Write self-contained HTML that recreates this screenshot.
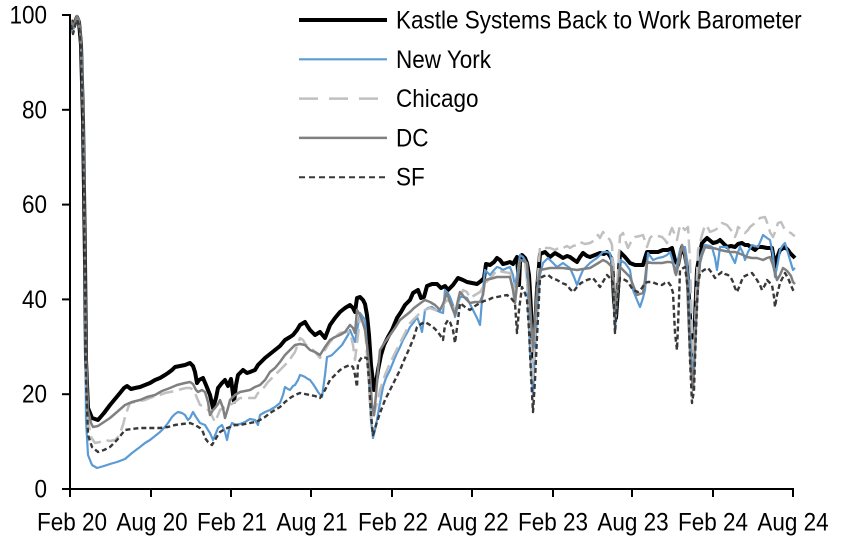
<!DOCTYPE html>
<html><head><meta charset="utf-8"><style>
html,body{margin:0;padding:0;background:#fff;}
svg{display:block;}
text{font-family:"Liberation Sans",Arial,sans-serif;font-size:25px;fill:#000;}
</style></head><body>
<svg width="852" height="543" viewBox="0 0 852 543" xmlns="http://www.w3.org/2000/svg">
<g fill="none" stroke-linejoin="round">
<!-- Kastle -->
<polyline stroke="#000" stroke-width="4" points="71,20 73,28 75,22 77,17 79,22 81,45 83,120 85,260 86,360 88,408 92,418 98,420 104,413 110,405 115,399 120,393 124,388 127,386 131,389 135,388 140,387 145,385 150,383 155,380 160,378 165,375 168,373 172,370 175,367 180,366 185,365 190,363 193,366 195,372 197,383 199,380 203,378 206,385 210,395 213,408 216,398 218,388 222,383 225,380 228,386 231,379 234,402 236,385 238,375 243,370 247,373 250,372 255,370 258,365 265,358 270,354 275,350 280,346 285,340 290,337 293,335 297,330 300,325 305,322 308,327 310,330 315,335 320,332 325,338 330,325 335,318 340,312 345,308 350,305 353,308 355,312 357,298 360,297 363,300 365,304 367,315 369,335 371,365 374,390 376,383 378,370 381,355 384,345 388,337 392,330 397,318 401,312 405,305 410,300 413,293 418,290 421,298 424,297 427,286 432,284 437,284 441,288 445,286 448,290 453,285 458,278 463,280 467,282 472,283 477,284 481,281 484,278 486,264 490,265 494,262 497,258 500,260 503,264 507,263 510,262 513,264 517,257 519,285 520,262 522,255 525,258 527,263 529,275 531,310 533,360 535,330 537,290 540,254 545,252 550,257 555,253 560,256 563,258 567,256 570,257 574,260 577,262 580,257 583,253 587,256 590,257 595,255 600,253 604,254 607,252 610,256 612,260 614,300 616,318 618,290 620,252 625,257 630,263 635,265 640,265 643,265 645,258 647,252 653,252 658,252 663,250 668,250 672,248 675,260 678,265 680,255 682,247 685,255 687,267 689,300 691,335 693,355 695,320 697,270 700,252 702,243 707,238 713,243 717,242 720,240 724,244 727,247 731,246 735,247 738,244 742,243 745,245 748,245 752,248 755,250 758,247 762,247 767,248 772,248 774,260 775,270 777,258 780,250 785,247 788,250 790,253 793,256 795,258"/>
<!-- New York -->
<polyline stroke="#5b9bd5" stroke-width="2.2" points="71,22 72,32 74,26 76,20 78,19 80,28 82,60 84,150 85,300 86,420 88,455 92,465 97,468 104,466 110,464 117,462 125,459 132,453 140,447 145,443 150,440 155,436 160,432 164,428 168,423 172,417 175,414 178,412 182,413 185,415 188,420 190,418 193,412 196,417 200,423 205,425 208,430 210,433 213,440 216,433 218,428 222,425 225,432 227,440 229,430 232,423 236,425 240,424 245,422 250,419 255,420 258,425 260,415 265,412 270,410 275,407 280,403 283,395 285,387 288,389 290,390 293,386 295,385 298,380 300,375 303,376 305,377 308,379 310,380 313,384 315,387 318,392 322,397 325,375 327,357 330,356 332,355 335,352 337,350 340,347 342,345 345,340 348,335 350,330 353,337 355,342 358,325 360,313 363,317 365,320 367,345 369,380 371,420 373,438 375,430 377,420 380,403 383,387 386,378 390,370 394,360 397,353 400,347 403,340 407,333 410,327 414,322 417,317 420,325 422,332 424,318 425,310 428,308 432,307 436,310 440,312 443,313 445,290 448,293 450,297 453,305 455,317 458,305 460,297 463,297 467,298 470,304 473,310 477,318 480,325 482,300 485,270 488,273 490,275 494,270 497,267 500,268 503,270 507,268 510,267 513,275 515,287 517,275 520,255 523,257 526,262 528,300 530,350 533,395 535,350 538,300 540,275 543,263 548,258 552,262 557,267 560,265 563,263 567,266 570,268 574,277 577,285 580,277 583,270 587,266 590,263 594,260 597,258 600,255 603,252 607,252 610,253 612,265 614,300 615,330 617,300 620,260 625,263 630,270 633,290 637,300 640,307 643,298 645,290 648,253 653,260 658,258 663,257 667,255 670,252 673,262 675,273 678,260 680,250 685,247 687,260 689,300 691,350 693,380 695,340 697,290 700,258 703,250 705,245 710,246 712,247 715,258 717,270 719,255 720,247 724,247 727,247 731,255 735,263 737,255 740,247 743,253 745,260 748,252 752,245 755,246 758,247 761,240 763,235 767,238 770,240 773,255 775,277 778,262 780,250 783,245 785,243 788,253 790,260 793,270 795,268"/>
<!-- Chicago -->
<polyline stroke="#c0c0c0" stroke-width="2.5" stroke-dasharray="14,6" points="71,22 73,30 75,24 77,18 79,22 81,45 83,120 85,260 86,360 88,420 91,437 95,443 100,442 105,440 110,441 115,440 118,437 120,433 123,425 125,417 128,408 130,403 135,402 140,401 145,400 150,398 155,396 160,395 165,393 170,392 175,391 178,390 182,389 186,388 190,388 194,390 197,398 200,405 203,406 206,408 210,412 213,418 215,422 218,415 220,410 225,407 230,405 235,402 240,398 245,398 250,398 255,398 258,393 262,390 268,382 275,375 282,368 288,362 295,352 300,338 303,340 306,345 310,347 315,352 320,358 325,350 330,342 335,337 340,333 345,332 350,332 353,345 355,360 358,335 360,317 363,322 365,327 368,370 370,405 372,423 375,410 378,400 380,390 385,375 390,363 395,353 400,343 405,333 410,323 415,318 420,313 425,310 430,308 435,310 440,312 443,305 447,300 450,302 455,310 460,300 463,290 467,292 470,298 475,295 480,292 483,287 488,280 493,275 497,270 503,272 510,273 513,280 515,300 517,285 520,260 525,262 528,290 531,340 533,380 535,340 537,290 540,247 545,248 550,248 555,250 560,247 563,248 567,246 570,248 573,246 577,245 580,242 585,244 590,243 595,240 598,235 600,238 603,232 607,237 610,240 612,245 614,290 615,320 617,290 620,236 623,233 625,240 628,248 632,240 635,237 640,236 643,235 647,247 650,238 653,235 658,236 662,237 665,240 667,243 670,233 672,228 675,235 677,240 680,225 683,228 685,230 688,227 690,260 692,330 694,360 696,300 698,250 702,235 705,225 708,228 710,232 715,230 718,228 722,223 727,225 731,230 735,237 737,232 738,227 742,230 745,233 748,230 750,227 755,223 758,220 760,218 765,217 768,225 770,232 773,237 775,232 778,223 781,222 784,228 788,232 791,233 793,235 795,236"/>
<!-- DC -->
<polyline stroke="#808080" stroke-width="2.5" points="71,20 73,28 75,21 77,16 79,20 81,40 83,110 85,250 86,350 88,410 91,423 93,427 98,426 104,422 110,418 117,412 125,405 132,402 140,400 147,397 155,395 162,391 170,388 177,385 185,383 190,382 193,384 196,390 198,392 202,390 205,392 208,402 210,415 213,410 215,408 218,404 220,400 223,408 225,418 228,408 230,400 235,395 240,392 245,391 250,390 255,387 260,385 265,380 270,372 275,368 280,362 285,355 290,350 295,345 300,344 305,345 310,350 315,352 320,355 325,347 330,340 335,337 340,335 345,332 350,325 353,328 355,333 357,310 360,315 362,320 365,330 367,345 370,375 372,405 374,415 376,395 378,370 380,350 385,342 390,335 395,328 400,320 405,316 410,312 414,308 418,305 422,302 425,300 430,302 435,305 438,308 440,310 443,304 447,293 450,302 453,310 455,315 458,300 460,292 465,298 470,303 475,302 480,302 483,295 485,280 490,279 497,277 503,277 510,277 513,290 515,303 517,285 520,260 524,261 527,263 529,290 531,320 533,347 535,320 537,290 540,270 545,269 550,268 557,268 563,268 570,269 577,270 583,269 590,268 595,265 600,262 603,260 607,262 612,267 614,295 615,317 617,295 620,267 625,272 630,277 633,285 637,295 640,294 643,293 645,280 647,262 652,263 657,263 662,263 667,262 670,262 673,263 676,275 679,262 682,245 685,255 687,280 689,330 691,370 693,390 695,350 697,300 700,263 702,255 705,247 710,248 713,248 717,249 720,250 725,251 730,252 735,252 738,253 743,255 747,257 752,258 757,258 760,259 763,260 767,258 770,257 773,265 777,280 780,275 783,268 786,270 788,272 791,276 793,282 795,284"/>
<!-- SF -->
<polyline stroke="#383838" stroke-width="2.4" stroke-dasharray="5,3" points="71,25 73,34 75,26 77,20 79,25 81,50 83,130 85,270 86,380 88,435 92,447 98,452 104,450 110,447 117,440 125,430 132,429 140,428 150,428 160,428 168,427 175,425 182,424 190,423 195,425 200,428 203,432 205,438 208,442 212,445 215,440 218,435 220,432 225,429 230,427 235,425 240,425 245,424 250,423 255,422 260,420 265,417 270,413 275,410 280,407 285,402 290,398 295,395 300,393 305,394 310,395 315,396 320,398 325,390 330,380 335,375 340,370 345,367 350,365 353,367 355,375 357,387 358,363 362,357 367,358 369,380 371,415 373,435 376,425 380,413 385,400 390,390 395,380 400,370 405,358 410,347 414,337 417,327 421,324 425,322 430,325 433,327 437,331 440,335 443,340 445,325 448,320 450,322 453,330 455,343 458,320 460,303 465,307 470,310 475,306 480,303 484,301 488,300 492,298 497,297 502,296 507,295 511,298 515,303 517,333 519,310 522,287 525,293 527,300 529,330 531,375 533,412 535,380 537,337 540,278 544,276 548,275 552,278 557,280 562,283 567,285 570,289 573,292 577,287 581,283 587,280 590,279 593,278 597,283 600,287 604,280 607,275 610,278 613,283 614,310 615,333 617,305 620,278 625,280 628,282 633,290 638,292 642,288 645,283 648,282 652,282 657,284 662,285 665,283 668,282 671,286 673,293 675,333 677,350 679,300 680,270 685,267 688,290 690,360 692,403 694,390 696,330 698,285 700,273 704,270 708,268 712,273 715,278 718,275 722,272 725,274 728,275 731,278 733,282 735,288 737,292 740,285 743,277 747,275 752,273 755,277 757,280 760,285 762,290 765,285 767,280 770,283 772,285 774,297 775,307 777,295 780,283 783,277 785,273 788,278 790,283 793,290 795,292"/>
</g>
<!-- axes -->
<g stroke="#000" stroke-width="2" fill="none">
<line x1="70" y1="14" x2="70" y2="490"/>
<line x1="69" y1="489" x2="794" y2="489"/>
<line x1="62" y1="15" x2="70" y2="15"/>
<line x1="62" y1="109.8" x2="70" y2="109.8"/>
<line x1="62" y1="204.6" x2="70" y2="204.6"/>
<line x1="62" y1="299.4" x2="70" y2="299.4"/>
<line x1="62" y1="394.2" x2="70" y2="394.2"/>
<line x1="62" y1="489" x2="70" y2="489"/>
<line x1="70" y1="489" x2="70" y2="497"/>
<line x1="151" y1="489" x2="151" y2="497"/>
<line x1="231" y1="489" x2="231" y2="497"/>
<line x1="311" y1="489" x2="311" y2="497"/>
<line x1="392" y1="489" x2="392" y2="497"/>
<line x1="472" y1="489" x2="472" y2="497"/>
<line x1="553" y1="489" x2="553" y2="497"/>
<line x1="632" y1="489" x2="632" y2="497"/>
<line x1="713" y1="489" x2="713" y2="497"/>
<line x1="793" y1="489" x2="793" y2="497"/>
</g>
<!-- y labels -->
<g text-anchor="end">
<text transform="translate(47,23.5) scale(0.9,1)">100</text>
<text transform="translate(47,118.3) scale(0.9,1)">80</text>
<text transform="translate(47,213.1) scale(0.9,1)">60</text>
<text transform="translate(47,307.9) scale(0.9,1)">40</text>
<text transform="translate(47,402.7) scale(0.9,1)">20</text>
<text transform="translate(47,497.5) scale(0.9,1)">0</text>
</g>
<!-- x labels -->
<g text-anchor="middle">
<text transform="translate(72,530.5) scale(0.9,1)">Feb 20</text>
<text transform="translate(152,530.5) scale(0.9,1)">Aug 20</text>
<text transform="translate(232,530.5) scale(0.9,1)">Feb 21</text>
<text transform="translate(312,530.5) scale(0.9,1)">Aug 21</text>
<text transform="translate(393,530.5) scale(0.9,1)">Feb 22</text>
<text transform="translate(473,530.5) scale(0.9,1)">Aug 22</text>
<text transform="translate(553,530.5) scale(0.9,1)">Feb 23</text>
<text transform="translate(633,530.5) scale(0.9,1)">Aug 23</text>
<text transform="translate(713,530.5) scale(0.9,1)">Feb 24</text>
<text transform="translate(793,530.5) scale(0.9,1)">Aug 24</text>
</g>
<!-- legend -->
<g fill="none">
<line x1="299" y1="20" x2="387" y2="20" stroke="#000" stroke-width="4"/>
<line x1="299" y1="59.3" x2="387" y2="59.3" stroke="#5b9bd5" stroke-width="2.2"/>
<line x1="299" y1="98.6" x2="387" y2="98.6" stroke="#c0c0c0" stroke-width="2.5" stroke-dasharray="19,11"/>
<line x1="299" y1="137.9" x2="387" y2="137.9" stroke="#808080" stroke-width="2.5"/>
<line x1="299" y1="177.2" x2="387" y2="177.2" stroke="#383838" stroke-width="2" stroke-dasharray="6,4"/>
</g>
<text transform="translate(396,28.5) scale(0.9,1)">Kastle Systems Back to Work Barometer</text>
<text transform="translate(396,67.8) scale(0.9,1)">New York</text>
<text transform="translate(396,107.1) scale(0.9,1)">Chicago</text>
<text transform="translate(396,146.4) scale(0.9,1)">DC</text>
<text transform="translate(396,185.7) scale(0.9,1)">SF</text>
</svg>
</body></html>
